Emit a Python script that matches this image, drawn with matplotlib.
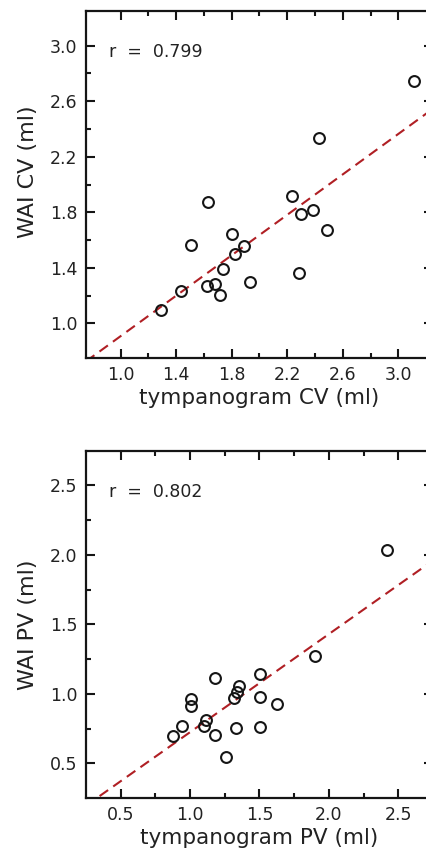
import numpy as np
import matplotlib
matplotlib.use('Agg')
import matplotlib.pyplot as plt
from matplotlib.ticker import FixedLocator

# top panel: compliance volume (CV)
cv_tymp = [3.115, 2.428, 2.236, 1.630, 2.296, 2.382, 2.485, 1.800, 1.505, 1.889,
           1.822, 1.740, 1.929, 2.286, 1.431, 1.625, 1.680, 1.714, 1.289]
cv_wai = [2.745, 2.332, 1.918, 1.875, 1.786, 1.817, 1.673, 1.642, 1.562, 1.560,
          1.498, 1.394, 1.300, 1.365, 1.231, 1.272, 1.286, 1.202, 1.094]
cv_fit = (0.728, 0.180)  # slope, intercept
cv_r = 0.799

# bottom panel: peak volume (PV)
pv_tymp = [2.416, 1.899, 1.501, 1.183, 1.353, 1.336, 1.319, 1.501, 1.628, 1.010,
           1.008, 0.943, 0.878, 1.113, 1.101, 1.183, 1.329, 1.501, 1.262]
pv_wai = [2.036, 1.275, 1.143, 1.114, 1.058, 1.013, 0.969, 0.977, 0.924, 0.962,
          0.909, 0.765, 0.697, 0.813, 0.765, 0.705, 0.755, 0.760, 0.543]
pv_fit = (0.706, 0.018)
pv_r = 0.802

cv_major = [1.0, 1.4, 1.8, 2.2, 2.6, 3.0]
cv_minor = [1.2, 1.6, 2.0, 2.4, 2.8]
cv_ticklabels = ['1.0', '1.4', '1.8', '2.2', '2.6', '3.0']
pv_major = [0.5, 1.0, 1.5, 2.0, 2.5]
pv_minor = [0.75, 1.25, 1.75, 2.25]
pv_ticklabels = ['0.5', '1.0', '1.5', '2.0', '2.5']

plt.rcParams['font.family'] = ['DejaVu Sans']
TXT = '#222222'


def draw_panel(ax, x, y, fit, r, lim, major, minor, labels, xlabel, ylabel):
	ax.set_xlim(lim)
	ax.set_ylim(lim)

	xs = np.array(lim)
	ax.plot(xs, fit[0] * xs + fit[1], color='#b01f24', linewidth=1.5,
			dashes=(5, 3), zorder=2)
	ax.plot(x, y, linestyle='none', marker='o', markersize=7.8,
			markerfacecolor='none', markeredgecolor='#151515',
			markeredgewidth=1.5, zorder=3)

	for axis in (ax.xaxis, ax.yaxis):
		axis.set_major_locator(FixedLocator(major))
		axis.set_minor_locator(FixedLocator(minor))
	ax.set_xticklabels(labels)
	ax.set_yticklabels(labels)

	ax.tick_params(which='both', direction='in', top=True, right=True,
				   width=1.5, color='#151515', labelcolor=TXT, labelsize=12.5)
	ax.tick_params(which='major', length=6.5)
	ax.tick_params(which='minor', length=3.5)
	ax.tick_params(axis='x', pad=5.5)
	ax.tick_params(axis='y', pad=6)
	for sp in ax.spines.values():
		sp.set_linewidth(1.6)
		sp.set_color('#151515')

	ax.set_xlabel(xlabel, fontsize=15.5, color=TXT, labelpad=3)
	ax.set_ylabel(ylabel, fontsize=16, color=TXT)
	ax.text(0.066, 0.882, 'r  =  %.3f' % r, transform=ax.transAxes,
			fontsize=12.5, color=TXT, va='center', ha='left')


fig = plt.figure(figsize=(4.27, 8.52), dpi=100)
ax1 = fig.add_axes([0.2014, 0.5798, 0.8126, 0.4073])
ax2 = fig.add_axes([0.2014, 0.0634, 0.8126, 0.4076])

draw_panel(ax1, cv_tymp, cv_wai, cv_fit, cv_r, (0.75, 3.25), cv_major, cv_minor,
		   cv_ticklabels, 'tympanogram CV (ml)', 'WAI CV (ml)')
draw_panel(ax2, pv_tymp, pv_wai, pv_fit, pv_r, (0.25, 2.75), pv_major, pv_minor,
		   pv_ticklabels, 'tympanogram PV (ml)', 'WAI PV (ml)')
ax1.yaxis.set_label_coords(-0.138, 0.536)
ax2.yaxis.set_label_coords(-0.138, 0.5)

fig.savefig('out.png', dpi=100)
